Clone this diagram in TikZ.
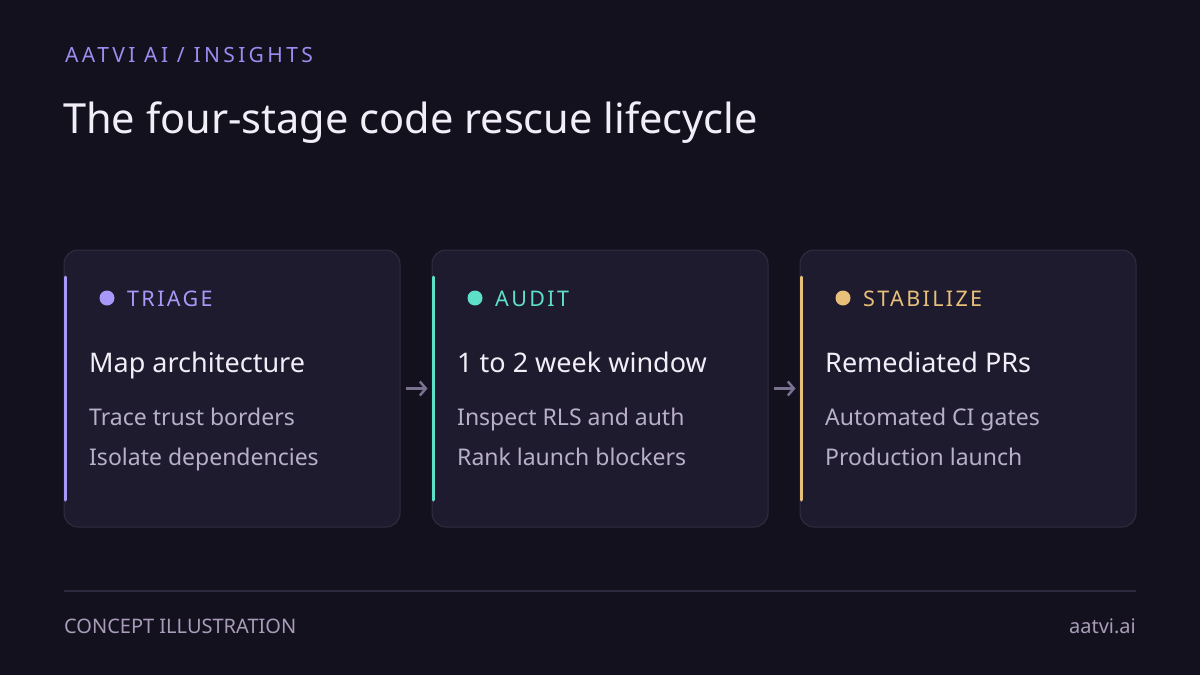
\documentclass[tikz,border=0pt]{standalone}
\usepackage{fontspec}
\setmainfont{Noto Sans}
\newfontfamily\spaced[LetterSpace=16]{Noto Sans}
\newfontfamily\spacedb[LetterSpace=11]{Noto Sans}
\usetikzlibrary{arrows.meta}
\definecolor{bg}{HTML}{14111F}
\definecolor{cardfill}{HTML}{1F1B2E}
\definecolor{cardline}{HTML}{322D44}
\definecolor{lav}{HTML}{A898F8}
\definecolor{teal}{HTML}{5EE0C8}
\definecolor{gold}{HTML}{E8C07A}
\definecolor{headc}{HTML}{9D8CF0}
\definecolor{titlec}{HTML}{F2EEF8}
\definecolor{itemc}{HTML}{B8AFC8}
\definecolor{arrc}{HTML}{7A7090}
\definecolor{footc}{HTML}{A89CB8}
\definecolor{rulec}{HTML}{2E2A3E}
\tikzset{
  card/.style={draw=cardline, fill=cardfill, line width=1pt, rounded corners=14pt, minimum width=336pt, minimum height=277pt, inner sep=0pt},
  bar/.style={line width=3pt, line cap=round},
  stagelbl/.style={anchor=base west, inner sep=0pt, font=\spacedb\fontsize{21.5}{26}\selectfont},
  cardtitle/.style={anchor=base west, inner sep=0pt, text=titlec, font=\fontsize{27}{32}\selectfont},
  item/.style={anchor=base west, inner sep=0pt, text=itemc, font=\fontsize{23}{28}\selectfont},
  flow/.style={draw=arrc, line width=2.5pt, -{Straight Barb[length=6pt,width=14pt,line cap=butt]}, shorten <=5pt, shorten >=4pt},
  foot/.style={inner sep=0pt, text=footc, font=\fontsize{20}{24}\selectfont},
}
\begin{document}
\begin{tikzpicture}[x=1pt,y=-1pt]
\fill[bg] (0,0) rectangle (1200,675);
\useasboundingbox (0,0) rectangle (1200,675);
\node[anchor=base west, inner sep=0pt, text=headc, font=\spaced\fontsize{21}{25}\selectfont] (hdr) at (65,62) {AATVI AI / INSIGHTS};
\node[anchor=base west, inner sep=0pt, text=titlec, font=\fontsize{41.5}{48}\selectfont] (ttl) at (63,133) {The four-stage code rescue lifecycle};
% cards
\node[card] (c1) at (232,388.5) {};
\node[card] (c2) at (600,388.5) {};
\node[card] (c3) at (968,388.5) {};
\foreach \c/\col/\x in {c1/lav/64, c2/teal/432, c3/gold/800}{
  \draw[bar, \col] (\x+1.5,277) -- (\x+1.5,500);
}
% card 1
\fill[lav] (107,298) circle (7.5pt);
\node[stagelbl, text=lav] (s1) at (127,306.5) {TRIAGE};
\node[cardtitle] (t1) at (89,372.5) {Map architecture};
\node[item] (a1) at (89,425) {Trace trust borders};
\node[item] (b1) at (89,465) {Isolate dependencies};
% card 2
\fill[teal] (475,298) circle (7.5pt);
\node[stagelbl, text=teal] (s2) at (495,306.5) {AUDIT};
\node[cardtitle] (t2) at (457,372.5) {1 to 2 week window};
\node[item] (a2) at (457,425) {Inspect RLS and auth};
\node[item] (b2) at (457,465) {Rank launch blockers};
% card 3
\fill[gold] (843,298) circle (7.5pt);
\node[stagelbl, text=gold] (s3) at (863,306.5) {STABILIZE};
\node[cardtitle] (t3) at (825,372.5) {Remediated PRs};
\node[item] (a3) at (825,425) {Automated CI gates};
\node[item] (b3) at (825,465) {Production launch};
% arrows
\draw[flow] (c1.east) -- (c2.west);
\draw[flow] (c2.east) -- (c3.west);
% footer
\coordinate (r1) at (64,591);
\coordinate (r2) at (1136,591);
\draw[rulec, line width=1.5pt] (r1) -- (r2);
\node[foot, anchor=base west] (f1) at (64,633) {CONCEPT ILLUSTRATION};
\node[foot, anchor=base east] (f2) at (1136,633) {aatvi.ai};
\end{tikzpicture}
\end{document}
